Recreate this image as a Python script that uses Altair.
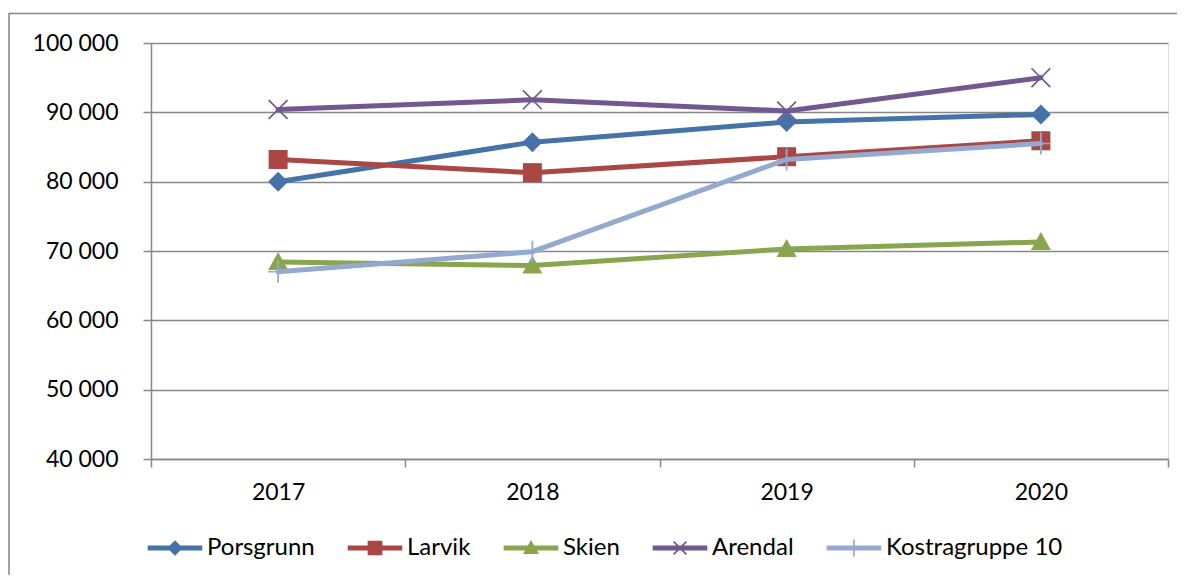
import altair as alt
import pandas as pd

years = ["2017", "2018", "2019", "2020"]
series = ["Porsgrunn", "Larvik", "Skien", "Arendal", "Kostragruppe 10"]
porsgrunn = [80000, 85700, 88600, 89700]
larvik = [83200, 81300, 83600, 85900]
skien = [68400, 67900, 70300, 71300]
arendal = [90400, 91800, 90200, 95000]
kostra = [67000, 69900, 83200, 85500]
y_ticks = [40000, 50000, 60000, 70000, 80000, 90000, 100000]
colors = ["#4572A7", "#AA4643", "#89A54E", "#71588F", "#93A9CF"]

# marker shapes (unit box = 20px at size 400)
marker_paths = [
    "M0,-1 L1,0 L0,1 L-1,0 Z",
    "M-0.95,-0.95 H0.95 V0.95 H-0.95 Z",
    "M0,-1 L1,0.8 L-1,0.8 Z",
    "M-1,-0.88 L-0.88,-1 L1,0.88 L0.88,1 Z M0.88,-1 L1,-0.88 L-0.88,1 L-1,0.88 Z",
    "M-0.09,-1.1 H0.09 V1.1 H-0.09 Z M-1,-0.08 H1 V0.08 H-1 Z",
]
# legend symbols: line + marker (unit = 7px at size 196)
LINE = "M-3.9,-0.36 H3.9 V0.36 H-3.9 Z "
legend_paths = [
    LINE + "M0,-1.1 L1.1,0 L0,1.1 L-1.1,0 Z",
    LINE + "M-1.05,-1.05 H1.05 V1.05 H-1.05 Z",
    LINE + "M0,-1.15 L1.15,0.85 L-1.15,0.85 Z",
    LINE + "M-1,-0.83 L-0.83,-1 L1,0.83 L0.83,1 Z M0.83,-1 L1,-0.83 L-0.83,1 L-1,0.83 Z",
    LINE + "M-0.12,-1.2 H0.12 V1.2 H-0.12 Z",
]

rows = []
for name, vals in zip(series, [porsgrunn, larvik, skien, arendal, kostra]):
    for yr, v in zip(years, vals):
        rows.append({"year": yr, "series": name, "value": v})
df = pd.DataFrame(rows)

FONT = "Lato"
GRID = "#878787"

x_enc = alt.X(
    "year:O",
    scale=alt.Scale(type="band", domain=years, paddingInner=0, paddingOuter=0),
    axis=alt.Axis(
        title=None, labelAngle=0, tickBand="extent", tickSize=8, tickWidth=1.5,
        tickColor=GRID, domainColor=GRID, domainWidth=1.5, grid=False,
        labelFont=FONT, labelFontSize=23, labelColor="black", labelPadding=14,
    ),
)
y_enc = alt.Y(
    "value:Q",
    scale=alt.Scale(domain=[40000, 100000], nice=False, zero=False),
    axis=alt.Axis(
        title=None, values=y_ticks, tickSize=8, tickWidth=1.5, tickColor=GRID,
        domainColor=GRID, domainWidth=1.5, grid=True, gridColor=GRID, gridWidth=1.5,
        labelFont=FONT, labelFontSize=23, labelColor="black", labelPadding=25,
        labelExpr="replace(format(datum.value, ','), ',', ' ')",
    ),
)
color_scale = alt.Scale(domain=series, range=colors)

border = alt.Chart(pd.DataFrame({"k": [0]})).mark_rect(
    filled=False, stroke=GRID, strokeWidth=1.5
).encode(
    x=alt.value(-142), x2=alt.value(1100), y=alt.value(-29.5), y2=alt.value(600)
)

layers = [border]
for name in series:
    base = alt.Chart(df).transform_filter(alt.datum.series == name)
    line = base.mark_line(strokeWidth=5, strokeJoin="round", strokeCap="round").encode(
        x=x_enc, y=y_enc,
        color=alt.Color("series:N", scale=color_scale, legend=None),
    )
    pts = base.mark_point(filled=True, size=400, opacity=1).encode(
        x=x_enc, y=y_enc,
        color=alt.Color("series:N", scale=color_scale, legend=None),
        shape=alt.Shape("series:N", scale=alt.Scale(domain=series, range=marker_paths), legend=None),
    )
    layers.append(alt.layer(line, pts))

leg_props = dict(
    title=None, orient="none", legendX=12, legendY=493, direction="horizontal",
    symbolSize=196, symbolStrokeWidth=0, symbolOpacity=1,
    labelFont=FONT, labelFontSize=24, labelColor="black",
    labelOffset=20, columnPadding=32, padding=0, labelLimit=400,
)
legend_layer = alt.Chart(pd.DataFrame({"entry": series})).transform_filter("false").mark_point(
    filled=True, opacity=1
).encode(
    color=alt.Color("entry:N", scale=alt.Scale(domain=series, range=colors), legend=alt.Legend(**leg_props)),
    shape=alt.Shape("entry:N", scale=alt.Scale(domain=series, range=legend_paths), legend=alt.Legend(**leg_props)),
)
layers.append(legend_layer)

chart = alt.layer(*layers).resolve_scale(
    color="independent", shape="independent"
).properties(
    width=1017, height=416,
    autosize=alt.AutoSizeParams(type="none"),
    padding={"left": 143, "top": 35, "right": 9, "bottom": 116},
).configure_view(strokeWidth=0).configure(background="white")

chart.save("out.html", embed_options={"renderer": "svg", "actions": False})
